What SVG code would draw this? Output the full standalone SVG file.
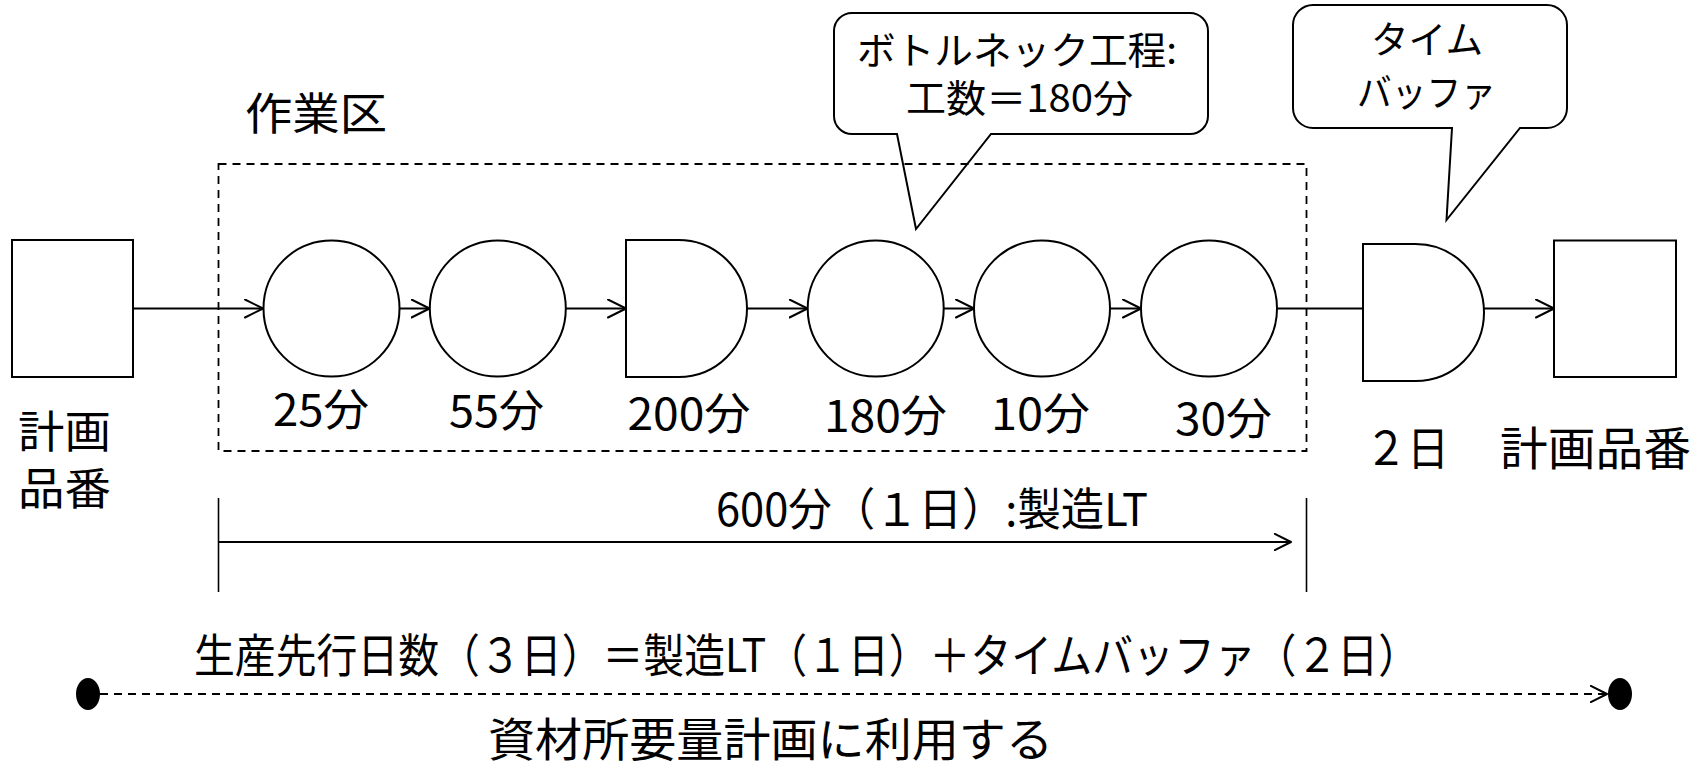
<svg xmlns="http://www.w3.org/2000/svg" width="1702" height="770" viewBox="0 0 1702 770">
<style>
.shape{fill:#fff;stroke:#000;stroke-width:2}
.call{fill:none;stroke:#000;stroke-width:2;stroke-linejoin:miter}
.conn{fill:none;stroke:#000;stroke-width:2}
.dash{fill:none;stroke:#000;stroke-width:1.8;stroke-dasharray:8 6}
.tick{fill:none;stroke:#000;stroke-width:1.6}
text{font-family:"Noto Sans CJK JP","Noto Sans",sans-serif;fill:#000}
.f44{font-size:44px}
.f46{font-size:46px}
.f45{font-size:45px}
.f38{font-size:38px}
</style>
<defs>
<marker id="arr" viewBox="0 0 20 20" markerWidth="20" markerHeight="20" refX="19" refY="10" orient="auto" markerUnits="userSpaceOnUse">
<path d="M1,1 L19,10 L1,19" fill="none" stroke="#000" stroke-width="2" stroke-linejoin="round" stroke-linecap="round"/>
</marker>
<marker id="arrs" viewBox="0 0 20 20" markerWidth="18" markerHeight="18" refX="19" refY="10" orient="auto" markerUnits="userSpaceOnUse">
<path d="M1,1 L19,10 L1,19" fill="none" stroke="#000" stroke-width="2.2" stroke-linejoin="round" stroke-linecap="round"/>
</marker>
</defs>

<g id="zone">
<rect x="218.5" y="164" width="1088" height="287" class="dash"/>
<text class="f44" x="245" y="130" textLength="142" lengthAdjust="spacingAndGlyphs">作業区</text>
</g>

<g id="connectors">
<line x1="133" y1="308.5" x2="263" y2="308.5" class="conn" marker-end="url(#arr)"/>
<line x1="399.5" y1="308.5" x2="429.5" y2="308.5" class="conn" marker-end="url(#arr)"/>
<line x1="566" y1="308.5" x2="626" y2="308.5" class="conn" marker-end="url(#arr)"/>
<line x1="747" y1="308.5" x2="807.5" y2="308.5" class="conn" marker-end="url(#arr)"/>
<line x1="944" y1="308.5" x2="974" y2="308.5" class="conn" marker-end="url(#arr)"/>
<line x1="1110" y1="308.5" x2="1141" y2="308.5" class="conn" marker-end="url(#arr)"/>
<line x1="1277" y1="308.5" x2="1363" y2="308.5" class="conn"/>
<line x1="1484" y1="308.5" x2="1554" y2="308.5" class="conn" marker-end="url(#arr)"/>
</g>

<g id="plan-in">
<rect x="12" y="240" width="121" height="137" class="shape"/>
<text class="f44"><tspan x="18" y="448" textLength="93" lengthAdjust="spacingAndGlyphs">計画</tspan><tspan x="18" y="505" textLength="93" lengthAdjust="spacingAndGlyphs">品番</tspan></text>
</g>

<g id="p1">
<circle cx="331.5" cy="308.5" r="68" class="shape"/>
<text class="f44" x="273" y="426" textLength="96" lengthAdjust="spacingAndGlyphs">25分</text>
</g>
<g id="p2">
<circle cx="497.8" cy="308.5" r="68" class="shape"/>
<text class="f44" x="449" y="427" textLength="95" lengthAdjust="spacingAndGlyphs">55分</text>
</g>
<g id="p3">
<path d="M626,240 H678.5 A68.5,68.5 0 0 1 678.5,377 H626 Z" class="shape"/>
<text class="f44" x="627.5" y="430" textLength="123" lengthAdjust="spacingAndGlyphs">200分</text>
</g>
<g id="p4">
<circle cx="875.7" cy="308.5" r="68" class="shape"/>
<text class="f44" x="824" y="432" textLength="123" lengthAdjust="spacingAndGlyphs">180分</text>
</g>
<g id="p5">
<circle cx="1042" cy="308.5" r="68" class="shape"/>
<text class="f44" x="991" y="430" textLength="99" lengthAdjust="spacingAndGlyphs">10分</text>
</g>
<g id="p6">
<circle cx="1209" cy="308.5" r="68" class="shape"/>
<text class="f44" x="1175" y="435" textLength="97" lengthAdjust="spacingAndGlyphs">30分</text>
</g>

<g id="buffer">
<path d="M1363,244 H1415.5 A68.5,68.5 0 0 1 1415.5,381 H1363 Z" class="shape"/>
<text class="f46" x="1365" y="465" textLength="84" lengthAdjust="spacingAndGlyphs">２日</text>
</g>

<g id="plan-out">
<rect x="1554" y="240.5" width="122" height="136.5" class="shape"/>
<text class="f46" x="1500" y="465" textLength="191" lengthAdjust="spacingAndGlyphs">計画品番</text>
</g>

<g id="callout-bottleneck">
<path d="M852,13 H1190 A18,18 0 0 1 1208,31 V116 A18,18 0 0 1 1190,134 H991 L916,229 L897,134 H852 A18,18 0 0 1 834,116 V31 A18,18 0 0 1 852,13 Z" class="call"/>
<text class="f38"><tspan x="857" y="64" textLength="320" lengthAdjust="spacingAndGlyphs">ボトルネック工程:</tspan><tspan x="906" y="112" textLength="227" lengthAdjust="spacingAndGlyphs">工数＝180分</tspan></text>
</g>

<g id="callout-buffer">
<path d="M1313,5 H1547 A20,20 0 0 1 1567,25 V108 A20,20 0 0 1 1547,128 H1520 L1446.5,220 L1452,128 H1313 A20,20 0 0 1 1293,108 V25 A20,20 0 0 1 1313,5 Z" class="call"/>
<text class="f38"><tspan x="1371" y="53" textLength="112" lengthAdjust="spacingAndGlyphs">タイム</tspan><tspan x="1357" y="106" textLength="139" lengthAdjust="spacingAndGlyphs">バッファ</tspan></text>
</g>

<g id="lt-span">
<line x1="218.5" y1="498" x2="218.5" y2="592" class="tick"/>
<line x1="1306.5" y1="498" x2="1306.5" y2="592" class="tick"/>
<line x1="218.5" y1="542" x2="1291" y2="542" class="conn" marker-end="url(#arrs)"/>
<text class="f45" x="716" y="526" textLength="432" lengthAdjust="spacingAndGlyphs">600分（１日）:製造LT</text>
</g>

<g id="lead-time">
<text class="f46" x="194" y="672" textLength="1225" lengthAdjust="spacingAndGlyphs">生産先行日数（３日）＝製造LT（１日）＋タイムバッファ（２日）</text>
<line x1="100" y1="694" x2="1607" y2="694" class="dash" style="stroke-width:2" marker-end="url(#arrs)"/>
<ellipse cx="88" cy="694" rx="12" ry="16" fill="#000"/>
<ellipse cx="1620" cy="694" rx="12" ry="16" fill="#000"/>
<text class="f46" x="488" y="756" textLength="565" lengthAdjust="spacingAndGlyphs">資材所要量計画に利用する</text>
</g>
</svg>
